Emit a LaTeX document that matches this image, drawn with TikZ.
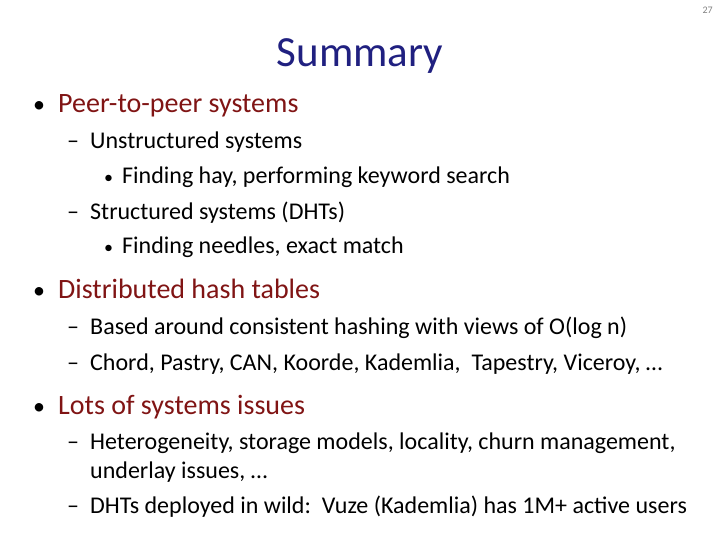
\documentclass[tikz,border=0pt]{standalone}
\usepackage{fontspec}
\setmainfont{Carlito}
\definecolor{navy}{RGB}{32,32,128}
\definecolor{dred}{RGB}{128,20,20}
\begin{document}
\begin{tikzpicture}[x=1pt,y=-1pt,
 t1/.style={anchor=base west,inner sep=0,font=\fontsize{28}{32}\selectfont,text=dred},
 t2/.style={anchor=base west,inner sep=0,font=\fontsize{24}{28}\selectfont},
 b1/.style={anchor=base west,inner sep=0,font=\fontsize{24}{28}\selectfont},
 b3/.style={anchor=base west,inner sep=0,font=\fontsize{18}{22}\selectfont},
 b2/.style={anchor=base west,inner sep=0,font=\fontsize{24}{28}\selectfont}]
\useasboundingbox (0,0) rectangle (720,540);
\node[anchor=base east,inner sep=0,font=\fontsize{10}{11}\selectfont,text=gray] (pg) at (713,14) {27};
\node[anchor=base,inner sep=0,font=\fontsize{43}{48}\selectfont,text=navy] (title) at (360,67) {Summary};
\node[b1] (a0) at (33,113) {•}; \node[t1] (a) at (58,113) {Peer-to-peer systems};
\node[b2] (b0) at (67,149) {–}; \node[t2] (b) at (90,149) {Unstructured systems};
\node[b3] (c0) at (104,184) {•}; \node[t2] (c) at (122,184) {Finding hay, performing keyword search};
\node[b2] (d0) at (67,219) {–}; \node[t2] (d) at (90,219) {Structured systems (DHTs)};
\node[b3] (e0) at (104,253) {•}; \node[t2] (e) at (122,253) {Finding needles, exact match};
\node[b1] (f0) at (33,298) {•}; \node[t1] (f) at (58,298) {Distributed hash tables};
\node[b2] (g0) at (67,334) {–}; \node[t2] (g) at (90,334) {Based around consistent hashing with views of O(log n)};
\node[b2] (h0) at (67,370) {–}; \node[t2] (h) at (90,370) {Chord, Pastry, CAN, Koorde, Kademlia,\ \ Tapestry, Viceroy, …};
\node[b1] (i0) at (33,414) {•}; \node[t1] (i) at (58,414) {Lots of systems issues};
\node[b2] (j0) at (67,449) {–}; \node[t2] (j) at (90,449) {Heterogeneity, storage models, locality, churn management,};
\node[t2] (k) at (90,478) {underlay issues, …};
\node[b2] (l0) at (67,513) {–}; \node[t2] (l) at (90,513) {DHTs deployed in wild:\ \ Vuze (Kademlia) has 1M+ active users};
\end{tikzpicture}
\end{document}
